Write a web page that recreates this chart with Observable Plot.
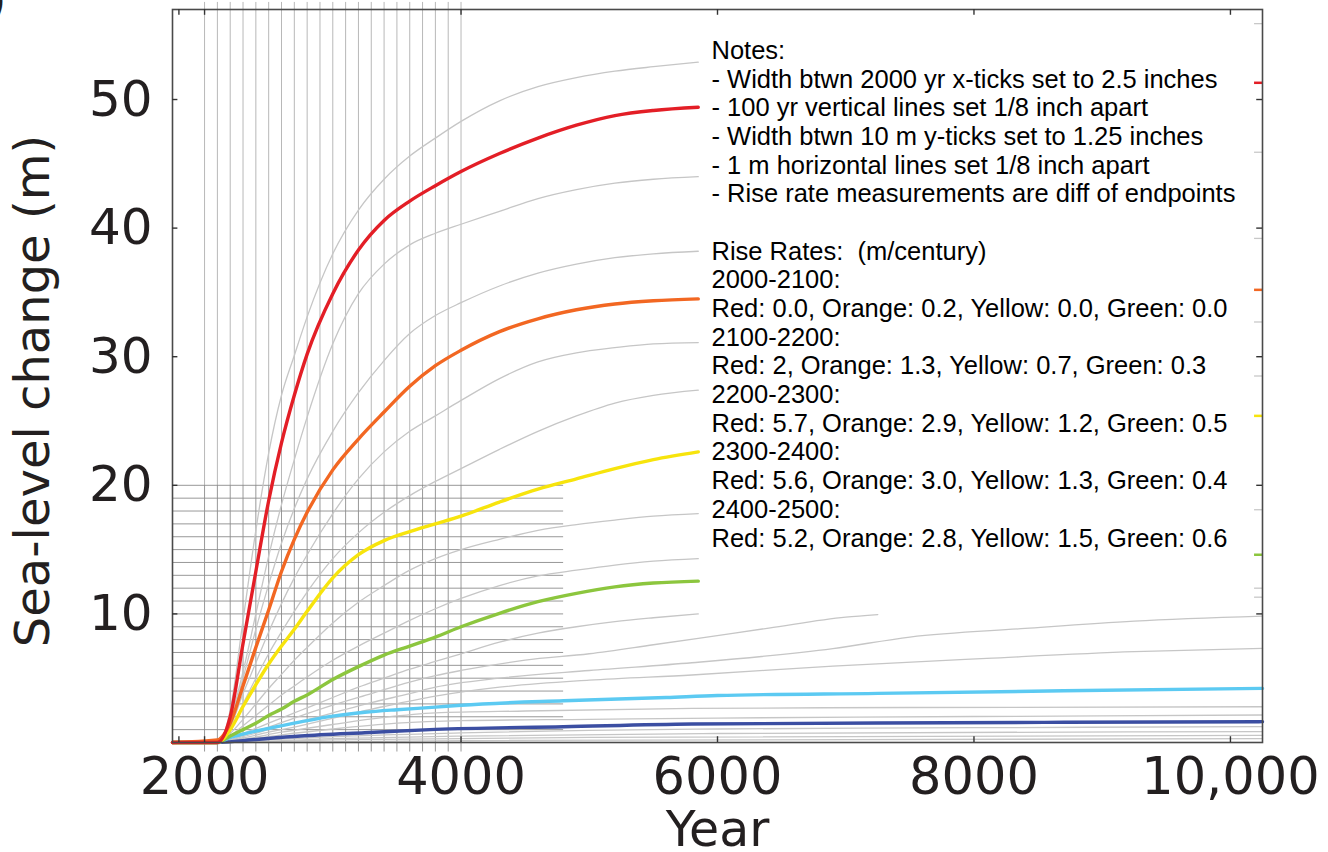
<!DOCTYPE html>
<html><head><meta charset="utf-8">
<script src="https://cdn.jsdelivr.net/npm/d3@7"></script>
<script src="https://cdn.jsdelivr.net/npm/@observablehq/plot@0.6"></script>
<style>html,body{margin:0;padding:0;background:#fff;overflow:hidden}</style>
</head><body><div id="chart"></div>
<script>
// ---- tick labels / grid positions ----
const xTicks = [2000, 4000, 6000, 8000, 10000];
const xTickMarks = [1800, 2000, 4000, 6000, 8000, 10000];
const yTicks = [10, 20, 30, 40, 50];
const gridYears = [2000,2100,2200,2300,2400,2500,2600,2700,2800,2900,3000,3100,3200,3300,3400,3500,3600,3700,3800,3900,4000];
const gridMeters = [1,2,3,4,5,6,7,8,9,10,11,12,13,14,15,16,17,18,19,20];

// ---- series (year, sea-level change in m) ----
const yearsShort = [1750, 2100, 2200, 2300, 2400, 2500, 2600, 2700, 2800, 3000, 3200, 3400, 3600, 3800, 4000, 4300, 4600, 4900, 5200, 5500, 5850];
const red    = [0, 0, 2.0, 7.7, 13.3, 18.8, 23.3, 27.0, 30.2, 34.9, 38.3, 40.6, 42.1, 43.3, 44.4, 45.8, 47.0, 48.0, 48.75, 49.15, 49.4];
const orange = [0, 0.2, 1.5, 4.4, 7.4, 10.3, 13.3, 15.8, 17.9, 21.2, 23.6, 25.7, 27.7, 29.3, 30.5, 31.95, 32.95, 33.65, 34.1, 34.35, 34.5];
const yellow = [0, 0, 1.0, 2.8, 4.5, 6.1, 7.5, 8.8, 10.2, 12.8, 14.6, 15.7, 16.4, 17.0, 17.6, 18.7, 19.7, 20.5, 21.3, 22.0, 22.6];
const green  = [0, 0, 0.5, 1.0, 1.5, 2.1, 2.6, 3.2, 3.7, 4.9, 5.9, 6.8, 7.5, 8.2, 9.0, 10.05, 10.95, 11.6, 12.1, 12.4, 12.55];

const gray1 = [0, 0, 2.5, 9.5, 16.5, 22.5, 27.0, 30.1, 33.1, 38.0, 41.4, 43.8, 45.6, 47.0, 48.3, 49.9, 51.0, 51.7, 52.2, 52.55, 52.9];
const gray2 = [0, 0, 1.8, 5.5, 10.0, 14.5, 18.5, 22.0, 25.3, 31.0, 34.9, 37.2, 38.7, 39.6, 40.3, 41.3, 42.3, 43.0, 43.5, 43.8, 44.0];
const gray3 = [0, 0, 1.6, 5.0, 8.8, 12.3, 15.5, 18.2, 20.5, 24.2, 27.2, 29.7, 31.8, 33.2, 34.2, 35.5, 36.5, 37.2, 37.7, 38.0, 38.2];
const gray4 = [0, 0, 1.2, 3.8, 6.2, 8.6, 10.8, 12.8, 14.6, 17.8, 20.5, 22.6, 24.2, 25.4, 26.6, 28.3, 29.6, 30.3, 30.7, 31.0, 31.1];
const gray5 = [0, 0, 1.0, 3.0, 5.0, 6.9, 8.6, 10.2, 11.7, 14.3, 16.3, 17.9, 19.2, 20.3, 21.3, 22.8, 24.2, 25.4, 26.4, 27.0, 27.4];
const gray6 = [0, 0, 0.7, 1.8, 3.0, 4.2, 5.3, 6.4, 7.4, 9.3, 10.9, 12.2, 13.4, 14.3, 15.0, 15.8, 16.5, 16.95, 17.3, 17.6, 17.8];
const gray7 = [0, 0, 0.5, 1.3, 2.1, 2.9, 3.7, 4.4, 5.1, 6.4, 7.5, 8.5, 9.5, 10.4, 11.2, 12.2, 12.95, 13.4, 13.8, 14.1, 14.3];
const gray8 = [0, 0, 0.3, 0.7, 1.1, 1.5, 1.9, 2.3, 2.7, 3.5, 4.3, 5.0, 5.7, 6.3, 6.9, 7.8, 8.5, 9.0, 9.4, 9.7, 10.0];

const gray9Years  = [1750, 2100, 2300, 2500, 2700, 3000, 3300, 3600, 3800, 4000, 4500, 5000, 5500, 5850, 6400, 7000, 7250];
const gray9       = [0, 0, 0.55, 1.2, 1.9, 2.9, 3.8, 4.7, 5.2, 5.6, 6.4, 6.9, 7.6, 8.1, 8.9, 9.75, 9.95];
const gray10Years = [1750, 2100, 2300, 2500, 2700, 3000, 3300, 3600, 3800, 4300, 5000, 5800, 6900, 7500, 8400, 9250, 10250];
const gray10      = [0, 0, 0.45, 1.0, 1.5, 2.3, 3.1, 3.8, 4.3, 5.0, 5.6, 6.2, 7.3, 8.2, 8.87, 9.44, 9.83];
const gray11Years = [1750, 2100, 2300, 2500, 2700, 3000, 3400, 3800, 4300, 5000, 5800, 6900, 8100, 9250, 10250];
const gray11      = [0, 0, 0.35, 0.8, 1.2, 1.9, 2.8, 3.6, 4.3, 4.85, 5.25, 5.94, 6.54, 7.06, 7.32];
const gray12Years = [1750, 2100, 2300, 2600, 3000, 3400, 3800, 4500, 5800, 7500, 10250];
const gray12      = [0, 0, 0.25, 0.8, 1.4, 1.95, 2.3, 2.45, 2.65, 2.72, 2.78];
const gray13Years = [1750, 2100, 2300, 2600, 3000, 3500, 4000, 5000, 6000, 8000, 10250];
const gray13      = [0, 0, 0.2, 0.6, 1.05, 1.5, 1.7, 1.8, 1.9, 2.02, 2.14];
const gray14Years = [1750, 2100, 2500, 3000, 4000, 5000, 6000, 8000, 10250];
const gray14      = [0, 0, 0.2, 0.45, 0.75, 0.95, 1.05, 1.15, 1.23];
const gray15Years = [1750, 2100, 3000, 4000, 6000, 10250];
const gray15      = [0, 0, 0.3, 0.5, 0.7, 0.85];
const gray16Years = [1750, 2100, 3000, 5000, 10250];
const gray16      = [0, 0, 0.2, 0.4, 0.55];
const gray17Years = [1750, 2100, 4000, 10250];
const gray17      = [0, 0, 0.15, 0.3];

const lightBlueYears = [1750, 2100, 2200, 2300, 2500, 2750, 3000, 3250, 3500, 3800, 4000, 4800, 5600, 6000, 7250, 8700, 10250];
const lightBlue      = [0, 0, 0.4, 0.65, 1.1, 1.6, 2.05, 2.35, 2.55, 2.75, 2.9, 3.25, 3.5, 3.65, 3.82, 4.02, 4.21];
const darkBlueYears  = [1750, 2100, 2300, 2750, 3250, 3800, 4800, 5800, 7250, 8700, 10250];
const darkBlue       = [0, 0, 0.15, 0.5, 0.76, 1.02, 1.23, 1.44, 1.52, 1.57, 1.62];

// right-edge end markers (m)
const rightColorTicks = [51.3, 35.2, 25.4, 14.6];
const rightColorTickColors = ["#e31e26", "#f26722", "#f7e40c", "#8cc63e"];
const rightGrayTicks = [55.9, 45.9, 39.2, 32.7, 28.5, 18.1, 12.0, 11.3];

const notes = [
  "Notes:",
  "- Width btwn 2000 yr x-ticks set to 2.5 inches",
  "- 100 yr vertical lines set 1/8 inch apart",
  "- Width btwn 10 m y-ticks set to 1.25 inches",
  "- 1 m horizontal lines set 1/8 inch apart",
  "- Rise rate measurements are diff of endpoints",
  "",
  "Rise Rates: \u00a0(m/century)",
  "2000-2100:",
  "Red: 0.0, Orange: 0.2, Yellow: 0.0, Green: 0.0",
  "2100-2200:",
  "Red: 2, Orange: 1.3, Yellow: 0.7, Green: 0.3",
  "2200-2300:",
  "Red: 5.7, Orange: 2.9, Yellow: 1.2, Green: 0.5",
  "2300-2400:",
  "Red: 5.6, Orange: 3.0, Yellow: 1.3, Green: 0.4",
  "2400-2500:",
  "Red: 5.2, Orange: 2.8, Yellow: 1.5, Green: 0.6"
];

// ---- build tables ----
const rows = (name, years, vals) => years.map((yr, i) => ({name, year: yr, value: vals[i]}));
const grayRows = [].concat(
  rows("g1", yearsShort, gray1), rows("g2", yearsShort, gray2), rows("g3", yearsShort, gray3),
  rows("g4", yearsShort, gray4), rows("g5", yearsShort, gray5), rows("g6", yearsShort, gray6),
  rows("g7", yearsShort, gray7), rows("g8", yearsShort, gray8),
  rows("g9", gray9Years, gray9), rows("g10", gray10Years, gray10), rows("g11", gray11Years, gray11),
  rows("g12", gray12Years, gray12), rows("g13", gray13Years, gray13), rows("g14", gray14Years, gray14),
  rows("g15", gray15Years, gray15), rows("g16", gray16Years, gray16), rows("g17", gray17Years, gray17)
);
const colored = [
  {data: rows("darkblue", darkBlueYears, darkBlue), color: "#3b4ea2"},
  {data: rows("lightblue", lightBlueYears, lightBlue), color: "#5ccaf2"},
  {data: rows("green", yearsShort, green), color: "#8cc63e"},
  {data: rows("yellow", yearsShort, yellow), color: "#f7e40c"},
  {data: rows("orange", yearsShort, orange), color: "#f26722"},
  {data: rows("red", yearsShort, red), color: "#e31e26"}
];
const colorTickRows = rightColorTicks.map((v, i) => ({value: v, color: rightColorTickColors[i]}));

const fmtX = d => d >= 10000 ? d3.format(",")(d) : String(d);
const ink = "#231f20";

const plot = Plot.plot({
  width: 1328, height: 852,
  marginLeft: 172, marginRight: 66, marginTop: 9, marginBottom: 110,
  x: {domain: [1750, 10250]},
  y: {domain: [0, 57]},
  style: {fontFamily: "DejaVu Sans", background: "#fff", color: ink},
  marks: [
    Plot.ruleX(gridYears, {y1: 20, y2: 57.55, stroke: "#b8b8b8", strokeWidth: 1}),
    Plot.ruleX(gridYears, {y1: -0.74, y2: 20, stroke: "#8c8c8c", strokeWidth: 0.9}),
    Plot.ruleY(gridMeters, {x1: 1750, x2: 4800, stroke: "#8c8c8c", strokeWidth: 0.9}),
    Plot.line(grayRows, {x: "year", y: "value", z: "name", stroke: "#c6c6c6", strokeWidth: 1.3, curve: "monotone-x"}),
    ...colored.map(c => Plot.line(c.data, {x: "year", y: "value", stroke: c.color, strokeWidth: 3.4, curve: "monotone-x"})),
    Plot.ruleY(rightGrayTicks, {x1: 10188, x2: 10250, stroke: "#c8c8c8", strokeWidth: 1.3}),
    Plot.ruleY(colorTickRows, {y: "value", x1: 10188, x2: 10250, stroke: d => d.color, strokeWidth: 2.5}),
    Plot.frame({stroke: "#4a4a4a", strokeWidth: 1.6}),
    Plot.ruleX(xTickMarks, {y1: 0, y2: 0.45, stroke: "#333", strokeWidth: 1.4}),
    Plot.ruleX(xTickMarks, {y1: 56.55, y2: 57, stroke: "#333", strokeWidth: 1.4}),
    Plot.ruleY(yTicks, {x1: 1750, x2: 1792, stroke: "#333", strokeWidth: 1.4}),
    Plot.ruleY(yTicks, {x1: 10205, x2: 10250, stroke: "#333", strokeWidth: 1.4}),
    Plot.axisX({ticks: xTicks, tickSize: 0, tickPadding: 15, fontSize: 51, tickFormat: fmtX, label: null, fill: ink}),
    Plot.axisY({ticks: yTicks, tickSize: 0, tickPadding: 20, fontSize: 50, label: null, fill: ink}),
    Plot.text(["Sea-level change (m)"], {frameAnchor: "left", rotate: -90, dx: -139, dy: 15, fontSize: 48, textAnchor: "middle", lineAnchor: "middle", fill: ink}),
    Plot.text(["Year"], {frameAnchor: "bottom", dy: 103, fontSize: 49, lineAnchor: "bottom", fill: ink}),
    Plot.text([notes.join("\n")], {frameAnchor: "top-left", dx: 539, dy: 29, textAnchor: "start", lineAnchor: "top", lineHeight: 1.125, fontSize: 25.5, fontFamily: "Liberation Sans", fill: "#000"}),
    Plot.text([")"], {frameAnchor: "top-left", dx: -166, dy: -8, textAnchor: "end", lineAnchor: "middle", fontSize: 48, fill: ink})
  ]
});
document.getElementById("chart").appendChild(plot);
</script>
</body></html>
